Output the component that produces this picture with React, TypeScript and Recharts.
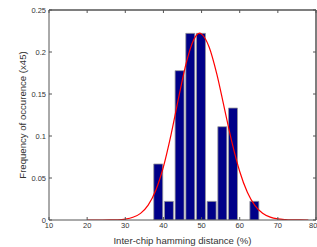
import { Bar, CartesianGrid, ComposedChart, Line, XAxis, YAxis } from "recharts";

// histogram bins (centre of bin, % hamming distance) and normalised counts (n/45)
const binCenters = [38.6, 41.4, 44.2, 47.0, 49.8, 52.6, 55.4, 58.2, 61.0, 63.8];
const binFreq = [0.0667, 0.0222, 0.1778, 0.2222, 0.2222, 0.0222, 0.1111, 0.1333, 0, 0.0222];

// fitted curve
const fitX = [20, 22, 24, 26, 28, 30, 32, 34, 36, 38, 40, 42, 44, 46, 48, 49.5, 50, 52, 54, 56, 58, 60, 62, 64, 66, 68, 70, 72, 74, 76, 78];
const fitY = [0, 0, 0, 0.0001, 0.0003, 0.0011, 0.0032, 0.0079, 0.0177, 0.0354, 0.0634, 0.1017, 0.1459, 0.1873, 0.2152, 0.2225, 0.2213, 0.2057, 0.1737, 0.1327, 0.0918, 0.0578, 0.033, 0.0171, 0.008, 0.0034, 0.0013, 0.0005, 0.0002, 0.0001, 0];

const xTicks = [10, 20, 30, 40, 50, 60, 70, 80];
const yTicks = [0, 0.05, 0.1, 0.15, 0.2, 0.25];

const bins = binCenters.map((x, i) => ({ x, freq: binFreq[i] }));
const fit = fitX.map((x, i) => ({ x, fit: fitY[i] }));

const font = "'Liberation Sans', Arial, sans-serif";
const tickStyle = { fontFamily: font, fontSize: 7.5, fill: "#333" };
const hiddenTick = { fontSize: 7, fill: "none" };
const axisColor = "#555";

// top and right edges of the box
const topEdge = ({ offset }: any) => [offset.top];
const rightEdge = ({ offset }: any) => [offset.left + offset.width];

export default function App() {
  return (
    <div style={{ position: "absolute", left: 0, top: 0, background: "#fff" }}>
      <ComposedChart
        width={317}
        height={247}
        data={bins}
        margin={{ top: 0, right: -11, bottom: 0, left: 0 }}
      >
        <CartesianGrid
          stroke={axisColor}
          horizontalCoordinatesGenerator={topEdge}
          verticalCoordinatesGenerator={rightEdge}
        />
        <XAxis
          dataKey="x"
          type="number"
          domain={[10, 80]}
          ticks={xTicks}
          allowDataOverflow
          height={27}
          tick={tickStyle}
          tickSize={-3}
          tickMargin={6}
          stroke={axisColor}
          label={{
            value: "Inter-chip hamming distance (%)",
            position: "insideBottom",
            offset: 3,
            style: { fontFamily: font, fontSize: 9.6, fill: "#333" },
          }}
        />
        <XAxis
          xAxisId="top"
          orientation="top"
          dataKey="x"
          type="number"
          domain={[10, 80]}
          ticks={xTicks}
          allowDataOverflow
          height={10}
          tick={hiddenTick}
          tickSize={-3}
          stroke={axisColor}
        />
        <YAxis
          type="number"
          domain={[0, 0.25]}
          ticks={yTicks}
          allowDataOverflow
          width={49}
          tick={tickStyle}
          tickSize={-3}
          tickMargin={6}
          stroke={axisColor}
          label={{
            value: "Frequency of occurence (x45)",
            angle: -90,
            position: "center",
            dx: -2,
            style: { fontFamily: font, fontSize: 9.6, fill: "#333" },
          }}
        />
        <YAxis
          yAxisId="right"
          orientation="right"
          type="number"
          domain={[0, 0.25]}
          ticks={yTicks}
          allowDataOverflow
          width={12}
          tick={hiddenTick}
          tickSize={-3}
          stroke={axisColor}
        />
        <Bar
          dataKey="freq"
          barSize={9}
          fill="#000088"
          stroke="#999"
          strokeWidth={0.8}
          isAnimationActive={false}
        />
        <Line
          data={fit}
          xAxisId="top"
          yAxisId="right"
          dataKey="fit"
          type="monotone"
          stroke="#ff0000"
          strokeWidth={1.2}
          dot={false}
          activeDot={false}
          isAnimationActive={false}
        />
      </ComposedChart>
    </div>
  );
}
